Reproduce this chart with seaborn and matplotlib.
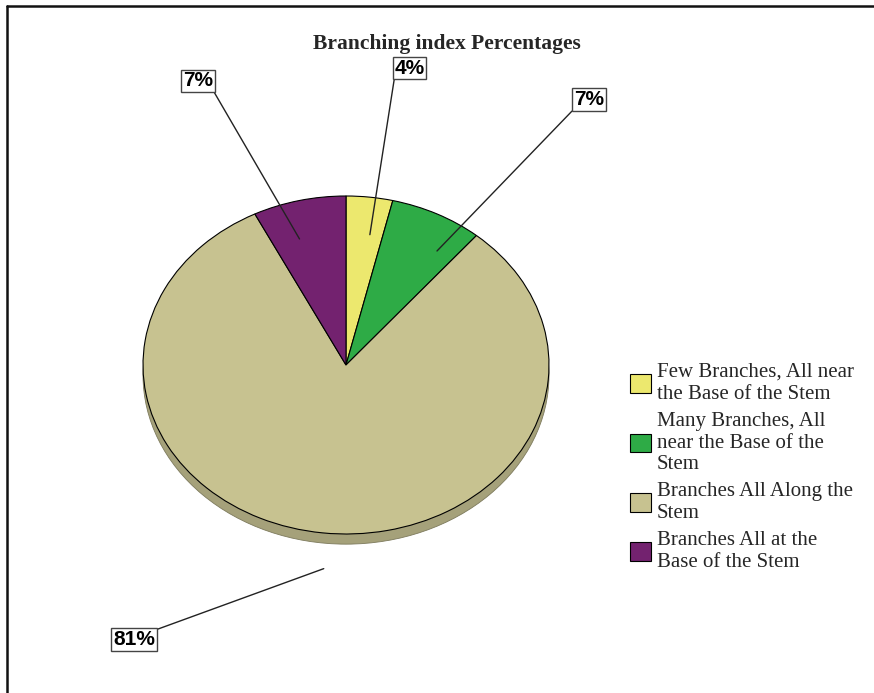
import numpy as np
import matplotlib
matplotlib.use("Agg")
import matplotlib.pyplot as plt
from matplotlib.patches import Ellipse, Patch
from matplotlib.lines import Line2D
import seaborn as sns

sns.set_theme(style="white")

# Branching index categories and their counts
categories = [
    "Few Branches, All near\nthe Base of the Stem",
    "Many Branches, All\nnear the Base of the\nStem",
    "Branches All Along the\nStem",
    "Branches All at the\nBase of the Stem",
]
counts = [1, 2, 22, 2]
colors = ["#ece86e", "#2eab46", "#c7c290", "#73226f"]
side_color = "#a5a17a"

W, H = 874, 693
fig = plt.figure(figsize=(W / 100, H / 100), dpi=100)
ax = fig.add_axes([0, 0, 1, 1])

# pie geometry in pixels (center, horizontal and vertical radius)
cx, cy, rx, ry = 346, 365, 203, 169

wedges, _ = ax.pie(counts, colors=colors, startangle=90, counterclock=False,
                   radius=1, center=(0, 0),
                   wedgeprops=dict(edgecolor="black", linewidth=0.8, zorder=3))
ax.set_aspect("auto")
ax.set_xlim(-cx / rx, (W - cx) / rx)
ax.set_ylim((cy - H) / ry, cy / ry)
ax.axis("off")

# darker rim to give the disc some depth
ax.add_patch(Ellipse((0, -0.06), 2, 2, facecolor=side_color,
                     edgecolor="#7d7a5c", linewidth=0.6, zorder=2))

total = sum(counts)
pct = [100 * c / total for c in counts]
fractions = np.array(counts) / total
starts = np.cumsum(fractions) - fractions

# where inside each wedge the leader line begins (share of wedge, radius)
anchor_frac = [0.65, 0.76, 0.495, 0.36]
anchor_r = [0.78, 0.81, 1.21, 0.78]
label_pos = [(0.313, 1.756), (1.197, 1.571), (-1.044, -1.625), (-0.729, 1.682)]
relpos = [(0, 0), (0, 0), (1, 1), (1, 0)]

for p, s, f, af, r, pos, rp in zip(pct, starts, fractions, anchor_frac,
                                    anchor_r, label_pos, relpos):
    ang = 2 * np.pi * (s + af * f)   # clockwise from the top
    x0, y0 = r * np.sin(ang), r * np.cos(ang)
    ax.annotate(f"{p:.0f}%", xy=(x0, y0), xytext=pos,
                ha="center", va="center", fontsize=15, fontweight="bold",
                family="Liberation Sans", color="black",
                bbox=dict(boxstyle="square,pad=0.08", facecolor="white",
                          edgecolor="#444444", linewidth=1),
                arrowprops=dict(arrowstyle="-", color="#222222", lw=1,
                                relpos=rp, shrinkA=0, shrinkB=0),
                annotation_clip=False, zorder=5)

fig.text(447 / W, 1 - 44 / H, "Branching index Percentages", ha="center",
         va="center", fontsize=15.5, fontweight="bold", family="Liberation Serif")

handles = [Patch(facecolor=c, edgecolor="black", linewidth=0.8) for c in colors]
leg = fig.legend(handles, categories, loc="upper left",
                 bbox_to_anchor=(630 / W, 1 - 363 / H), frameon=False,
                 prop=dict(family="Liberation Serif", size=15),
                 handlelength=1.0, handleheight=1.0, handletextpad=0.3,
                 labelspacing=0.38, borderpad=0, borderaxespad=0)
for t in leg.get_texts():
    t.set_linespacing(1.2)

# outer frame lines
fig.add_artist(Line2D([7 / W, 1], [1 - 6 / H, 1 - 6 / H], color="#111111", lw=1.8))
fig.add_artist(Line2D([7 / W, 7 / W], [0, 1 - 6 / H], color="#111111", lw=1.8))

fig.savefig("out.png", dpi=100)
